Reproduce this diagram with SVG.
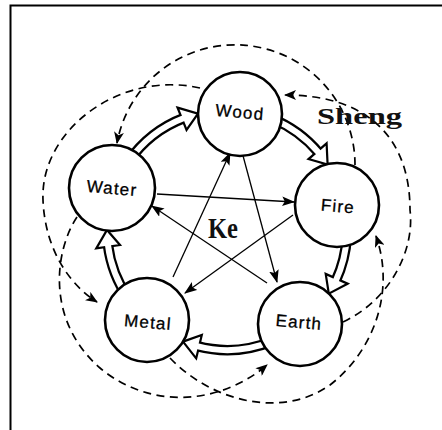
<svg xmlns="http://www.w3.org/2000/svg" width="442" height="430" viewBox="0 0 442 430">
<style>
.frame{stroke:#000;stroke-width:2;fill:none}
.node circle{fill:#fff;stroke:#000;stroke-width:2.6}
.node text{font-family:"Liberation Sans",Arial,sans-serif;font-size:17px;letter-spacing:1.2px;text-anchor:middle;fill:#000;stroke:#000;stroke-width:0.3}
.dash{fill:none;stroke:#000;stroke-width:1.7;stroke-dasharray:8 5.5;marker-end:url(#dh)}
.ke{fill:none;stroke:#000;stroke-width:1.3;marker-end:url(#kh)}
.bandO{fill:none;stroke:#000;stroke-width:10.5}
.bandI{fill:none;stroke:#fff;stroke-width:6}
.head{fill:#fff;stroke:#000;stroke-width:2.2;stroke-linejoin:miter}
.big{font-family:"Liberation Serif","Times New Roman",serif;font-weight:bold;fill:#111}
</style>
<defs>
<marker id="dh" viewBox="0 0 12 10" refX="11" refY="5" markerWidth="13" markerHeight="10" markerUnits="userSpaceOnUse" orient="auto"><path d="M0,0 L12,5 L0,10 L3,5 z" fill="#000"/></marker>
<marker id="kh" viewBox="0 0 12 9" refX="11" refY="4.5" markerWidth="13" markerHeight="10" markerUnits="userSpaceOnUse" orient="auto"><path d="M0,0 L12,4.5 L0,9 L2.5,4.5 z" fill="#000"/></marker>
</defs>
<rect width="442" height="430" fill="#fff"/>
<path class="frame" d="M10.5,430 L10.5,5.5 L442,5.5"/>
<g id="connectors">
<g id="dashed">
<path class="dash" d="M355,165 A120,120 0 0 0 117,143"/>
<path class="dash" d="M200,88 C120,70 40,130 43,200 C45,250 70,285 97,302"/>
<path class="dash" d="M343,322 C390,300 415,250 410,210 C410,140 370,95 285,95"/>
<path class="dash" d="M77,217 C55,250 45,320 100,368 C150,410 220,405 267,365"/>
<path class="dash" d="M170,358 C210,400 280,420 330,385 C375,350 395,290 376,236"/>
</g>
<g id="ke">
<path class="ke" d="M157,194 L294,202"/>
<path class="ke" d="M293,215 L185,293"/>
<path class="ke" d="M173,277 L230,153"/>
<path class="ke" d="M242,152 L277,282"/>
<path class="ke" d="M267,283 L152,206"/>
</g>
<g id="sheng">
<path class="bandO" d="M128.7,161.2 A120,120 0 0 1 184.0,118.0"/>
<polygon class="head" points="177.55,107.6 198.0,113.6 186.54,129.9"/>
<path class="bandI" d="M128.7,161.2 A120,120 0 0 1 184.0,118.0"/>
<path class="bandO" d="M271.95,118.7 A120,120 0 0 1 318.9,152.9"/>
<polygon class="head" points="326.6,143.4 327.6,164.6 308.5,159.1"/>
<path class="bandI" d="M271.95,118.7 A120,120 0 0 1 318.9,152.9"/>
<path class="bandO" d="M346.8,236.3 A120,120 0 0 1 335.8,280.7"/>
<polygon class="head" points="347.6,283.7 328.8,293.6 325.7,273.9"/>
<path class="bandI" d="M346.8,236.3 A120,120 0 0 1 335.8,280.7"/>
<path class="bandO" d="M271.95,341.3 A120,120 0 0 1 197.0,346.2"/>
<polygon class="head" points="196.2,358.4 183.0,341.6 201.8,335.0"/>
<path class="bandI" d="M271.95,341.3 A120,120 0 0 1 197.0,346.2"/>
<path class="bandO" d="M128.7,298.8 A120,120 0 0 1 107.9,244.6"/>
<polygon class="head" points="96.3,248.4 107,230 120.0,245.0"/>
<path class="bandI" d="M128.7,298.8 A120,120 0 0 1 107.9,244.6"/>
</g>
</g>
<g id="wood" class="node"><circle cx="240" cy="114" r="42"/><text x="240" y="118" transform="rotate(5 240 112)">Wood</text></g>
<g id="fire" class="node"><circle cx="337" cy="205" r="42"/><text x="338" y="212" transform="rotate(5 338 206)">Fire</text></g>
<g id="earth" class="node"><circle cx="300" cy="324" r="42"/><text x="299" y="328" transform="rotate(5 299 322)">Earth</text></g>
<g id="metal" class="node"><circle cx="147" cy="320" r="42"/><text x="148" y="328" transform="rotate(5 148 322)">Metal</text></g>
<g id="water" class="node"><circle cx="112" cy="188" r="43"/><text x="112" y="194" transform="rotate(5 112 188)">Water</text></g>
<text class="big" x="317" y="124" font-size="23" textLength="85" lengthAdjust="spacingAndGlyphs">Sheng</text>
<text class="big" x="208" y="238" font-size="29" textLength="30" lengthAdjust="spacingAndGlyphs">Ke</text>
</svg>
